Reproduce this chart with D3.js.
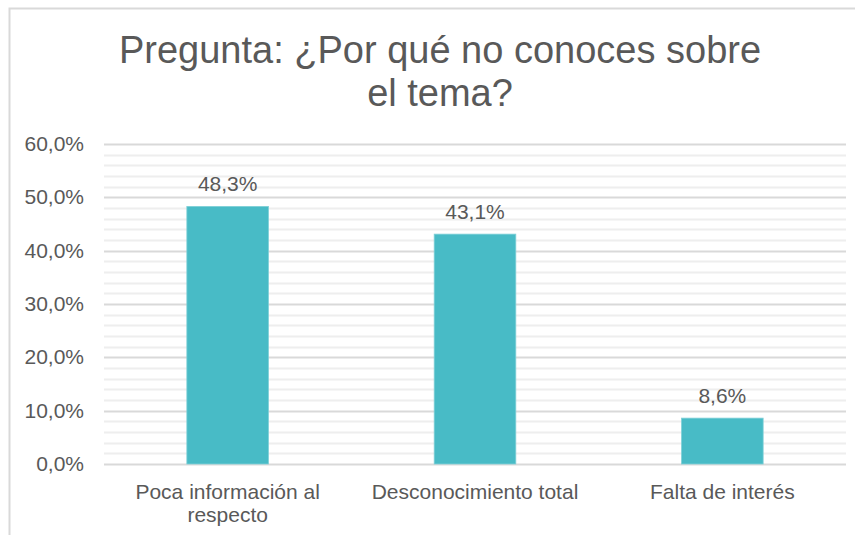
<!DOCTYPE html>
<html>
<head>
<meta charset="utf-8">
<script src="https://cdn.jsdelivr.net/npm/d3@7"></script>
<style>
  body { margin: 0; background: #fff; }
  text { font-family: "Liberation Sans", Arial, sans-serif; fill: #595959; }
</style>
</head>
<body>
<div id="chart"></div>
<script>
// data
const categories = ["Poca información al respecto", "Desconocimiento total", "Falta de interés"];
const categoryLines = [["Poca información al", "respecto"], ["Desconocimiento total"], ["Falta de interés"]];
const values = [48.3, 43.1, 8.6];
const majorTicks = [0, 10, 20, 30, 40, 50, 60];
const minorTicks = d3.range(0, 61, 2);
const titleLines = ["Pregunta: ¿Por qué no conoces sobre", "el tema?"];

const W = 855, H = 535;
const plot = { left: 104, right: 846, top: 144, bottom: 464 };

const fmt = v => v.toFixed(1).replace(".", ",") + "%";

const svg = d3.select("#chart").append("svg")
  .attr("width", W)
  .attr("height", H);

// chart border (only top/left visible in the crop)
svg.append("rect")
  .attr("x", 9.5).attr("y", 8.5)
  .attr("width", W + 20).attr("height", H + 20)
  .attr("fill", "none")
  .attr("stroke", "#d9d9d9")
  .attr("stroke-width", 2);

const y = d3.scaleLinear().domain([0, 60]).range([plot.bottom, plot.top]);
const x = d3.scaleBand()
  .domain(categories)
  .range([plot.left, plot.right])
  .paddingInner(0.67)
  .paddingOuter(0.335);

// gridlines
svg.append("g").selectAll("line.minor")
  .data(minorTicks.filter(t => t % 10 !== 0))
  .enter().append("line")
  .attr("class", "minor")
  .attr("x1", plot.left).attr("x2", plot.right)
  .attr("y1", d => Math.round(y(d)) + 0.5).attr("y2", d => Math.round(y(d)) + 0.5)
  .attr("stroke", "#eeeeee")
  .attr("stroke-width", 2);

svg.append("g").selectAll("line.major")
  .data(majorTicks)
  .enter().append("line")
  .attr("class", "major")
  .attr("x1", plot.left).attr("x2", plot.right)
  .attr("y1", d => Math.round(y(d)) + 0.5).attr("y2", d => Math.round(y(d)) + 0.5)
  .attr("stroke", "#d9d9d9")
  .attr("stroke-width", 2);

// y labels
svg.append("g").selectAll("text")
  .data(majorTicks)
  .enter().append("text")
  .attr("x", 84)
  .attr("y", d => y(d) + 7)
  .attr("text-anchor", "end")
  .attr("font-size", "21px")
  .text(d => fmt(d));

// bars
svg.append("g").selectAll("rect")
  .data(values)
  .enter().append("rect")
  .attr("x", (d, i) => x(categories[i]))
  .attr("width", x.bandwidth())
  .attr("y", d => y(d))
  .attr("height", d => y(0) - y(d))
  .attr("fill", "#48bbc6")
  .attr("stroke", "#7fd0d7")
  .attr("stroke-width", 0.8);

// data labels
svg.append("g").selectAll("text")
  .data(values)
  .enter().append("text")
  .attr("x", (d, i) => x(categories[i]) + x.bandwidth() / 2)
  .attr("y", d => y(d) - 15)
  .attr("text-anchor", "middle")
  .attr("font-size", "21px")
  .text(d => fmt(d));

// category labels
const cat = svg.append("g").selectAll("text")
  .data(categoryLines)
  .enter().append("text")
  .attr("text-anchor", "middle")
  .attr("font-size", "21px");

cat.selectAll("tspan")
  .data((d, i) => d.map(line => ({ line, i })))
  .enter().append("tspan")
  .attr("x", d => x(categories[d.i]) + x.bandwidth() / 2)
  .attr("y", (d, j) => 499 + j * 23)
  .text(d => d.line);

// title
svg.append("text")
  .attr("text-anchor", "middle")
  .attr("font-size", "38px")
  .selectAll("tspan")
  .data(titleLines)
  .enter().append("tspan")
  .attr("x", 440)
  .attr("y", (d, i) => 63 + i * 43)
  .text(d => d);
</script>
</body>
</html>
